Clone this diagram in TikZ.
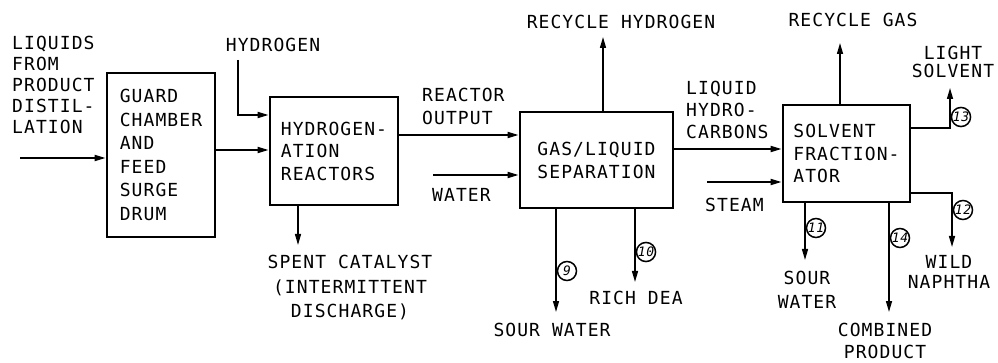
\documentclass[tikz,border=0pt]{standalone}
\usepackage{fontspec}
\setmainfont{DejaVu Sans Mono}[LetterSpace=6]
\usetikzlibrary{arrows.meta}

\newcommand{\letters}[1]{\fontsize{18}{#1}\selectfont}
\tikzset{
  unit/.style={draw, line width=2.8pt, align=left, inner sep=0pt},
  flow/.style={-{Triangle[length=11pt,width=6pt]}, line width=1.8pt},
  drop/.style={flow, line width=1.4pt},
  lbl/.style={inner sep=0pt, font=\letters{22}},
  tag/.style={circle, draw, line width=1.5pt, minimum size=19pt, inner sep=0pt,
    font=\fontsize{13}{14}\selectfont\itshape},
}

\begin{document}
\begin{tikzpicture}[x=1pt, y=-1pt]
\useasboundingbox (0,0) rectangle (998,363);
%--- Process units ---
\node[unit, minimum width=108pt, minimum height=164pt, font=\letters{23.5}] (guard) at (161,155)
  {GUARD\\CHAMBER\\AND\\FEED\\SURGE\\DRUM};
\node[unit, minimum width=128pt, minimum height=108pt, font=\letters{22.5}] (reactor) at (334,151)
  {HYDROGEN-\\ATION\\REACTORS};
\node[unit, minimum width=153pt, minimum height=96pt, font=\letters{23}] (sep) at (596.5,160)
  {GAS/LIQUID\\SEPARATION};
\node[unit, minimum width=127pt, minimum height=97pt, font=\letters{22.5}] (frac) at (846.5,153.5)
  {SOLVENT\\FRACTION-\\ATOR};
%--- Free ends of streams ---
\coordinate (feed) at (20,158);
\coordinate (h2in) at (238,60);
\coordinate (spent) at (298,245);
\coordinate (water) at (433,175);
\coordinate (rech2) at (603,37);
\coordinate (sw9) at (556,312);
\coordinate (dea) at (635,282);
\coordinate (steam) at (707,182);
\coordinate (recgas) at (840,43);
\coordinate (light) at (950,88);
\coordinate (wild) at (952,247);
\coordinate (sw11) at (805,260);
\coordinate (comb) at (889,312);
%--- Streams ---
\draw[flow] (feed) -- (feed -| guard.west);
\draw[flow] (guard.east |- 0,150) -- (reactor.west |- 0,150);
\draw[flow] (h2in) |- (reactor.west |- 0,115);
\draw[drop] (spent |- reactor.south) -- (spent);
\draw[flow] (reactor.east |- 0,135) -- (sep.west |- 0,135);
\draw[flow] (water) -- (water -| sep.west);
\draw[drop] (rech2 |- sep.north) -- (rech2);
\draw[drop] (sw9 |- sep.south) -- (sw9);
\draw[drop] (dea |- sep.south) -- (dea);
\draw[flow] (sep.east |- 0,149) -- (frac.west |- 0,149);
\draw[flow] (steam) -- (steam -| frac.west);
\draw[drop] (recgas |- frac.north) -- (recgas);
\draw[drop] (frac.east |- 0,128) -| (light);
\draw[drop] (frac.east |- 0,193) -| (wild);
\draw[drop] (sw11 |- frac.south) -- (sw11);
\draw[drop] (comb |- frac.south) -- (comb);
%--- Stream numbers ---
\node[tag] (t9) at (567,271) {9};
\node[tag] (t10) at (646,252) {10};
\node[tag] (t11) at (816,228) {11};
\node[tag] (t12) at (963,210) {12};
\node[tag] (t13) at (961,117) {13};
\node[tag] (t14) at (900,238) {14};
%--- Labels ---
\node[lbl, anchor=west, align=left, font=\letters{21}] (feedlbl) at (12,85)
  {LIQUIDS\\FROM\\PRODUCT\\DISTIL-\\LATION};
\node[lbl] (h2lbl) at (273,45) {HYDROGEN};
\node[lbl, anchor=west, align=left, font=\letters{23}] (outlbl) at (422,106.5) {REACTOR\\OUTPUT};
\node[lbl, anchor=west] (waterlbl) at (432,195) {WATER};
\node[lbl, align=center, font=\letters{24.5}] (spentlbl) at (350,288)
  {SPENT CATALYST\\(INTERMITTENT\\DISCHARGE)};
\node[lbl] (rech2lbl) at (621,22) {RECYCLE HYDROGEN};
\node[lbl] (sw9lbl) at (552,330) {SOUR WATER};
\node[lbl] (dealbl) at (636,298) {RICH DEA};
\node[lbl, anchor=west, align=left] (hclbl) at (686,110) {LIQUID\\HYDRO-\\CARBONS};
\node[lbl, anchor=west] (steamlbl) at (705,205) {STEAM};
\node[lbl] (recgaslbl) at (853,20) {RECYCLE GAS};
\node[lbl, align=center, font=\letters{18}] (lightlbl) at (953,61.5) {LIGHT\\SOLVENT};
\node[lbl, align=center, font=\letters{20}] (wildlbl) at (949,272) {WILD\\NAPHTHA};
\node[lbl, align=center, font=\letters{24}] (sw11lbl) at (807,290) {SOUR\\WATER};
\node[lbl, align=center, font=\letters{22}] (comblbl) at (885,341) {COMBINED\\PRODUCT};
\end{tikzpicture}
\end{document}
